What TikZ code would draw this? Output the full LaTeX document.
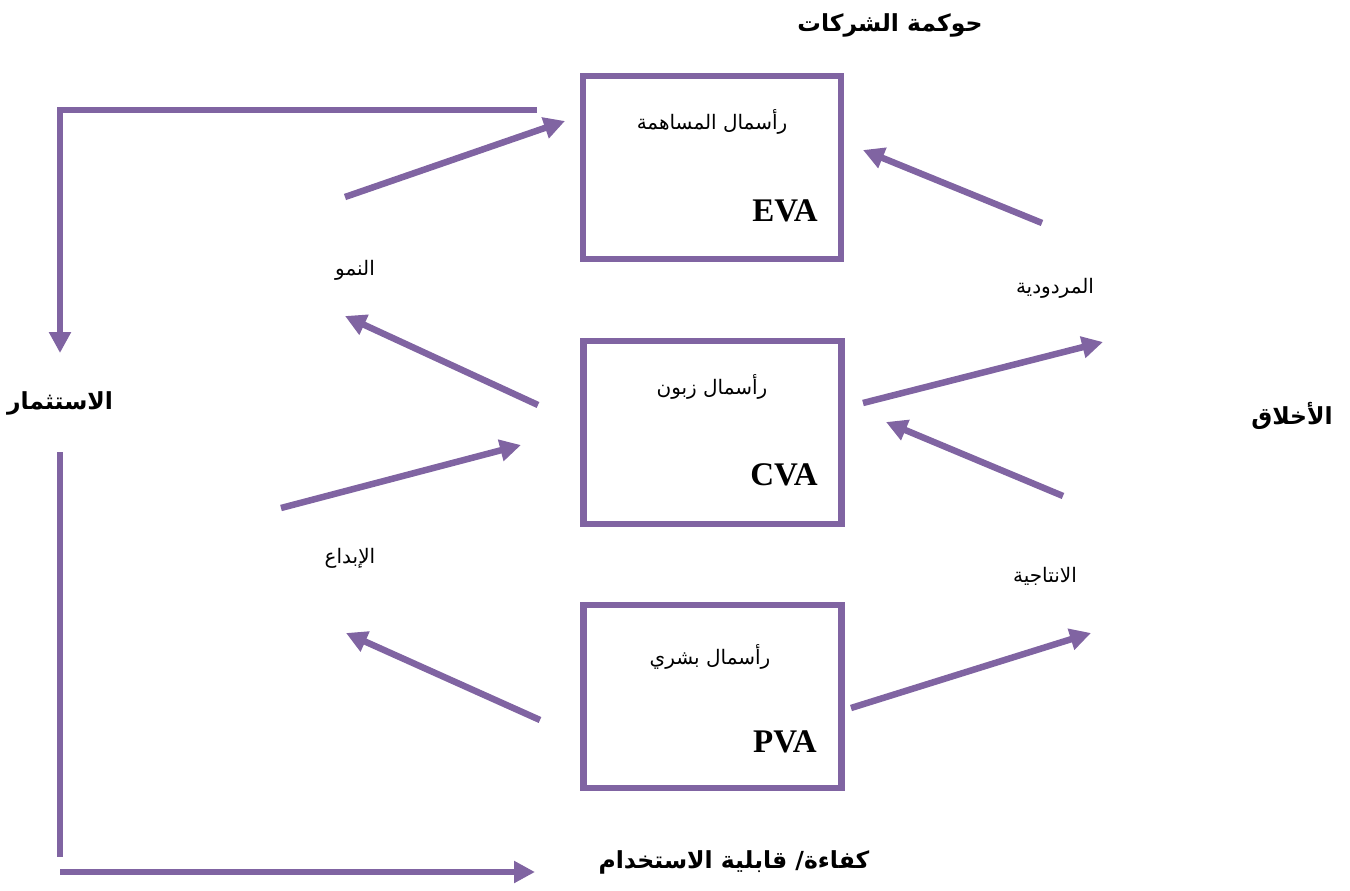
\documentclass[tikz,border=0pt]{standalone}
\usepackage{fontspec}
\usetikzlibrary{arrows.meta}
\setmainfont{Liberation Serif}
\newfontfamily\arabicfont[Script=Arabic]{DejaVu Sans}
\TeXXeTstate=1
\definecolor{linkpurple}{HTML}{8064A2}
\newcommand{\ar}[1]{\arabicfont\beginR #1\endR}
\tikzset{
  flow/.style={draw=linkpurple, line width=6.5pt, -{Triangle[length=21pt,width=21pt]}},
  plainline/.style={draw=linkpurple, line width=6.5pt},
  capbox/.style={draw=linkpurple, line width=6.5pt, minimum width=258pt, minimum height=183pt, inner sep=0pt},
  lbl/.style={inner sep=0pt, font=\fontsize{20}{24}\selectfont},
  head/.style={inner sep=0pt, font=\bfseries\fontsize{23.5}{28}\selectfont},
  code/.style={inner sep=0pt, font=\bfseries\fontsize{33}{38}\selectfont}
}
\begin{document}
\begin{tikzpicture}[x=1pt,y=-1pt]
\useasboundingbox (0,0) rectangle (1350,891);

% capital boxes
\node[capbox] (eva) at (712,167.5) {};
\node[capbox] (cva) at (712.5,432.5) {};
\node[capbox] (pva) at (712.5,696.5) {};

\node[lbl] (evaT) at (712,122) {\ar{رأسمال المساهمة}};
\node[code] (evaC) at (785,211) {EVA};
\node[lbl] (cvaT) at (712,387) {\ar{رأسمال زبون}};
\node[code] (cvaC) at (784,475) {CVA};
\node[lbl] (pvaT) at (710,657) {\ar{رأسمال بشري}};
\node[code] (pvaC) at (785,742) {PVA};

% headings
\node[head] (gov) at (890,25) {\ar{حوكمة الشركات}};
\node[head] (inv) at (60,403) {\ar{الاستثمار}};
\node[head] (eth) at (1292,416) {\ar{الأخلاق}};
\node[head] (eff) at (734,862) {\ar{كفاءة/ قابلية الاستخدام}};

% side labels
\node[lbl] (grow) at (355,270) {\ar{النمو}};
\node[lbl] (innov) at (350,558) {\ar{الإبداع}};
\node[lbl] (profit) at (1055,288) {\ar{المردودية}};
\node[lbl] (prod) at (1045,576) {\ar{الانتاجية}};

% arrow end points
\coordinate (topR) at (537,110);
\coordinate (topL) at (60,110);
\coordinate (invTop) at (60,353);
\coordinate (invBot) at (60,452);
\coordinate (botL) at (60,857);
\coordinate (botS) at (60,872);
\coordinate (botE) at (535,872);

\coordinate (g1s) at (345,197);  \coordinate (g1e) at (565,121);
\coordinate (g2s) at (538,405);  \coordinate (g2e) at (345,316);
\coordinate (i1s) at (281,508);  \coordinate (i1e) at (521,445);
\coordinate (i2s) at (540,720);  \coordinate (i2e) at (346,633);
\coordinate (p1s) at (1042,223); \coordinate (p1e) at (863,150);
\coordinate (p2s) at (863,403);  \coordinate (p2e) at (1103,342);
\coordinate (q1s) at (1063,496); \coordinate (q1e) at (886,422);
\coordinate (q2s) at (851,708);  \coordinate (q2e) at (1091,633);

% investment loop
\draw[flow, line join=miter] (topR) -- (topL) -- (invTop);
\draw[plainline] (invBot) -- (botL);
\draw[flow] (botS) -- (botE);

% links between boxes and labels
\draw[flow] (g1s) -- (g1e);
\draw[flow] (g2s) -- (g2e);
\draw[flow] (i1s) -- (i1e);
\draw[flow] (i2s) -- (i2e);
\draw[flow] (p1s) -- (p1e);
\draw[flow] (p2s) -- (p2e);
\draw[flow] (q1s) -- (q1e);
\draw[flow] (q2s) -- (q2e);
\end{tikzpicture}
\end{document}
